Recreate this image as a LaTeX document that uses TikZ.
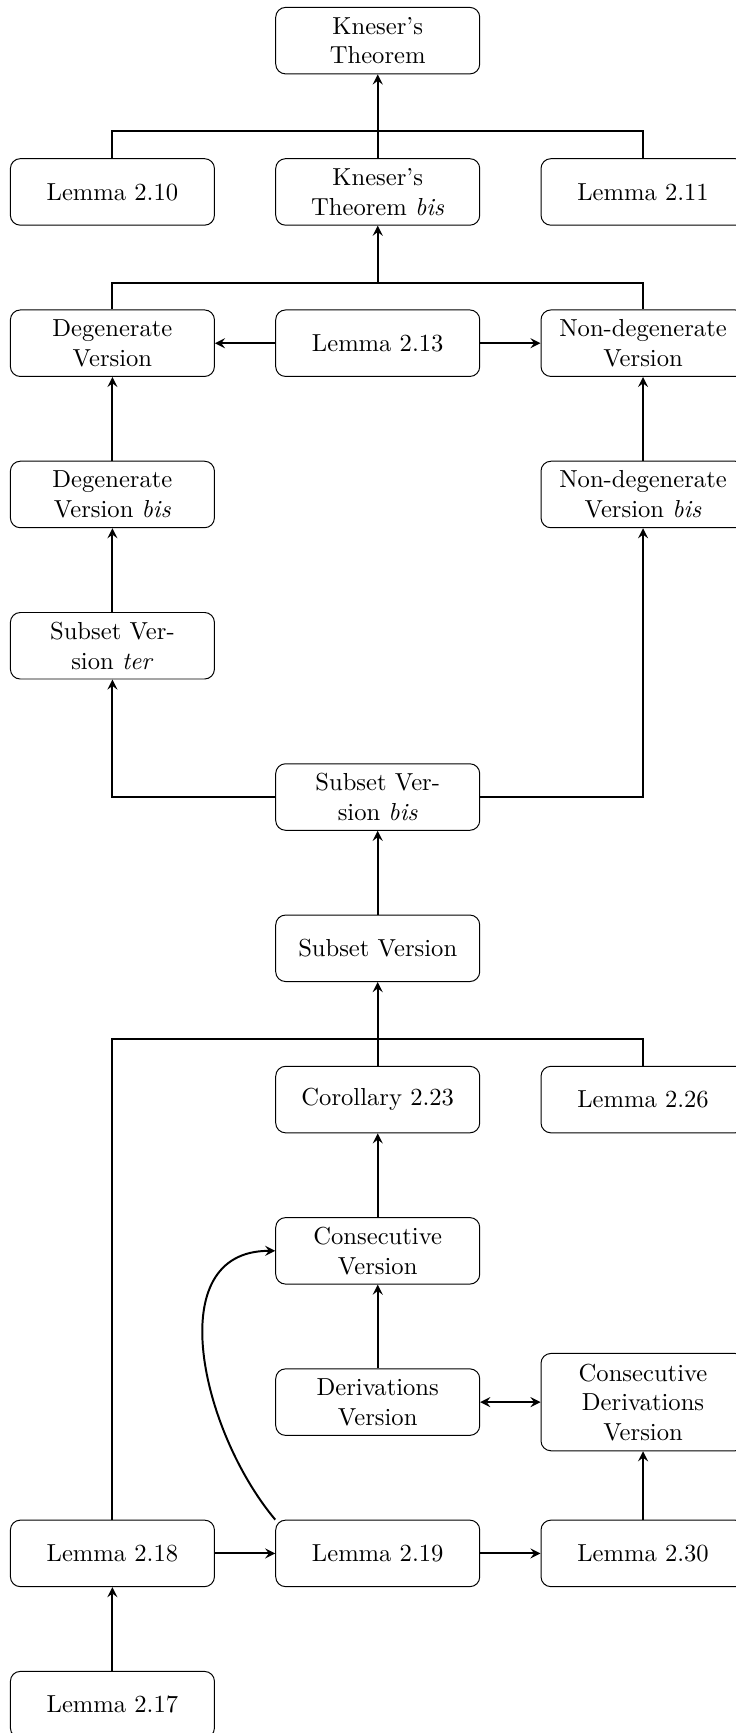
\documentclass[tikz,border=0pt]{standalone}
\usepackage{tikz}

\begin{document}
\begin{tikzpicture}[
    box/.style={draw, rounded corners, align=center, text width=2.68cm, minimum height=0.95cm},
    link/.style={thick},
    arr/.style={thick, -stealth}
  ]
  \useasboundingbox (-5.396,0.581) rectangle (5.118,-24.176);
  % rows 0 to 3
  \node[box] (kt) at (0,0) {Kneser's\\Theorem};
  \node[box] (l210) at (-3.79,-2.161) {Lemma 2.10};
  \node[box] (ktbis) at (0,-2.161) {Kneser's\\Theorem \emph{bis}};
  \node[box] (l211) at (3.79,-2.161) {Lemma 2.11};
  \node[box] (deg) at (-3.79,-4.322) {Degenerate\\Version};
  \node[box] (l213) at (0,-4.322) {Lemma 2.13};
  \node[box] (ndeg) at (3.79,-4.322) {Non-degenerate\\Version};
  \node[box] (degbis) at (-3.79,-6.483) {Degenerate\\Version \emph{bis}};
  \node[box] (ndegbis) at (3.79,-6.483) {Non-degenerate\\Version \emph{bis}};
  % subset versions
  \node[box] (subter) at (-3.79,-8.644) {Subset Ver-\\sion \emph{ter}};
  \node[box] (subbis) at (0,-10.805) {Subset Ver-\\sion \emph{bis}};
  \node[box] (subset) at (0,-12.966) {Subset Version};
  \node[box] (c223) at (0,-15.127) {Corollary 2.23};
  \node[box] (l226) at (3.79,-15.127) {Lemma 2.26};
  \node[box] (cons) at (0,-17.288) {Consecutive\\Version};
  \node[box] (der) at (0,-19.449) {Derivations\\Version};
  \node[box, minimum height=1.39cm] (consder) at (3.79,-19.449) {Consecutive\\Derivations\\Version};
  \node[box] (l218) at (-3.79,-21.61) {Lemma 2.18};
  \node[box] (l219) at (0,-21.61) {Lemma 2.19};
  \node[box] (l230) at (3.79,-21.61) {Lemma 2.30};
  \node[box] (l217) at (-3.79,-23.771) {Lemma 2.17};

  \coordinate (j1) at (0,-1.296);
  \coordinate (j2) at (0,-3.457);
  \coordinate (j3) at (0,-14.262);

  \draw[link] (l210.north) |- (j1) -| (l211.north);
  \draw[arr] (ktbis) -- (kt);
  \draw[link] (deg.north) |- (j2) -| (ndeg.north);
  \draw[arr] (j2) -- (ktbis);
  \draw[arr] (l213) -- (deg);
  \draw[arr] (l213) -- (ndeg);
  \draw[arr] (degbis) -- (deg);
  \draw[arr] (ndegbis) -- (ndeg);
  \draw[arr] (subter) -- (degbis);
  \draw[arr] (subbis.west) -| (subter.south);
  \draw[arr] (subbis.east) -| (ndegbis.south);
  \draw[arr] (subset) -- (subbis);
  \draw[link] (l218.north) |- (j3) -| (l226.north);
  \draw[arr] (c223) -- (subset);
  \draw[arr] (cons) -- (c223);
  \draw[arr] (der) -- (cons);
  \draw[thick, stealth-stealth] (der) -- (consder);
  \draw[arr] (l230) -- (consder);
  \draw[arr] (l218) -- (l219);
  \draw[arr] (l219) -- (l230);
  \draw[arr] (l217) -- (l218);
  \draw[arr] (l219.north west) to[out=130, in=180, looseness=1.1] (cons.west);
\end{tikzpicture}
\end{document}
